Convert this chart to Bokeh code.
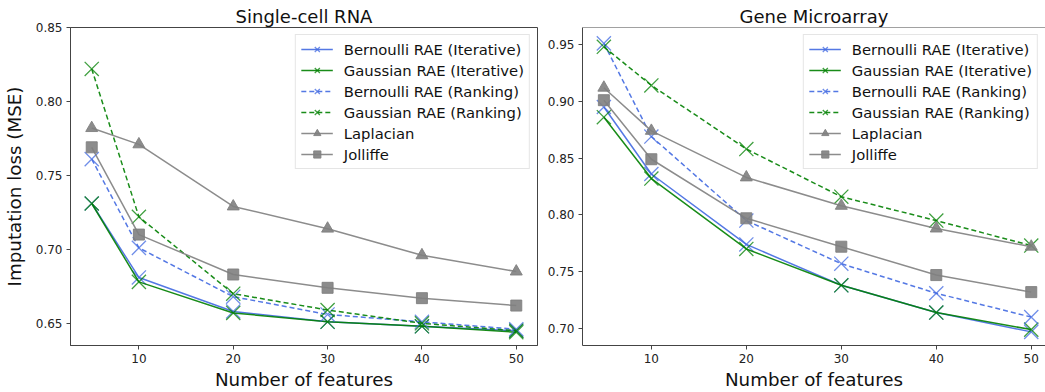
from bokeh.plotting import figure
from bokeh.layouts import row
from bokeh.models import Range1d, FixedTicker, NumeralTickFormatter, Legend, LegendItem, Span
from bokeh.embed import file_html
from bokeh.resources import INLINE

features = [5, 10, 20, 30, 40, 50]

series_names = ["Bernoulli RAE (Iterative)", "Gaussian RAE (Iterative)",
                "Bernoulli RAE (Ranking)", "Gaussian RAE (Ranking)",
                "Laplacian", "Jolliffe"]

# Single-cell RNA
rna_bern_iter = [0.731, 0.681, 0.658, 0.651, 0.648, 0.645]
rna_gauss_iter = [0.731, 0.678, 0.657, 0.651, 0.648, 0.644]
rna_bern_rank = [0.761, 0.701, 0.668, 0.656, 0.651, 0.646]
rna_gauss_rank = [0.822, 0.722, 0.670, 0.659, 0.650, 0.645]
rna_laplacian = [0.782, 0.771, 0.729, 0.714, 0.696, 0.685]
rna_jolliffe = [0.769, 0.710, 0.683, 0.674, 0.667, 0.662]

# Gene Microarray
gm_bern_iter = [0.895, 0.836, 0.774, 0.738, 0.714, 0.697]
gm_gauss_iter = [0.886, 0.832, 0.770, 0.738, 0.714, 0.699]
gm_bern_rank = [0.951, 0.869, 0.795, 0.757, 0.731, 0.710]
gm_gauss_rank = [0.948, 0.914, 0.858, 0.816, 0.795, 0.773]
gm_laplacian = [0.912, 0.874, 0.833, 0.808, 0.788, 0.772]
gm_jolliffe = [0.901, 0.849, 0.797, 0.772, 0.747, 0.732]

rna_ticks = [0.65, 0.70, 0.75, 0.80, 0.85]
gm_ticks = [0.70, 0.75, 0.80, 0.85, 0.90, 0.95]
x_ticks = [10, 20, 30, 40, 50]

BLUE = "#4169e1"
GREEN = "#008000"
GRAY = "#808080"
FONT = "DejaVu Sans"
SPINE = "#444444"

styles = [
    dict(color=BLUE, dash="solid", marker="x"),
    dict(color=GREEN, dash="solid", marker="x"),
    dict(color=BLUE, dash="5 3", marker="x"),
    dict(color=GREEN, dash="5 3", marker="x"),
    dict(color=GRAY, dash="solid", marker="triangle"),
    dict(color=GRAY, dash="solid", marker="square"),
]


def make_fig(title, data, yr, yticks, xr, width, mbl, mbr, ylabel, outline=True):
    p = figure(width=width, height=392, output_backend="svg", toolbar_location=None,
               x_range=Range1d(*xr), y_range=Range1d(*yr),
               min_border_left=mbl, min_border_right=mbr, min_border_top=27,
               min_border_bottom=44)
    p.title.text = title
    p.title.text_font = FONT
    p.title.text_font_size = "18px"
    p.title.text_font_style = "normal"
    p.title.text_color = "#111111"
    p.title.align = "center"
    p.title.standoff = 2
    p.title.offset = 0
    p.grid.visible = False
    p.background_fill_color = "white"
    p.border_fill_color = "white"
    if outline:
        p.outline_line_color = SPINE
    else:
        p.outline_line_color = None
        p.add_layout(Span(location=yr[1], dimension="width", line_color=SPINE, line_width=1))

    xax = p.below[0]
    yax = p.left[0]
    for ax in (xax, yax):
        ax.axis_line_color = SPINE
        ax.major_tick_line_color = SPINE
        ax.minor_tick_line_color = None
        ax.major_tick_out = 4
        ax.major_tick_in = 0
        ax.major_label_text_font = FONT
        ax.major_label_text_font_size = "12px"
        ax.major_label_text_color = "#222222"
        ax.major_label_standoff = 4
        ax.axis_label_text_font = FONT
        ax.axis_label_text_font_size = "18.3px"
        ax.axis_label_text_font_style = "normal"
        ax.axis_label_text_color = "#111111"
    xax.ticker = FixedTicker(ticks=x_ticks)
    yax.ticker = FixedTicker(ticks=yticks)
    yax.formatter = NumeralTickFormatter(format="0.00")
    xax.axis_label = "Number of features"
    xax.axis_label_standoff = 3
    if ylabel:
        yax.axis_label = ylabel
        yax.axis_label_standoff = 8

    items = []
    for name, ys, st in zip(series_names, data, styles):
        r_line = p.line(features, ys, line_color=st["color"], line_width=1.5,
                        line_dash=st["dash"], line_alpha=0.9)
        if st["marker"] == "x":
            r_mark = p.scatter(features, ys, marker="x", size=20, line_color=st["color"],
                               line_width=1.3, line_alpha=0.75)
        elif st["marker"] == "triangle":
            r_mark = p.scatter(features, ys, marker="triangle", size=12, fill_color=st["color"],
                               line_color=st["color"], line_alpha=0.9, fill_alpha=0.9)
        else:
            r_mark = p.scatter(features, ys, marker="square", size=11, fill_color=st["color"],
                               line_color=st["color"], line_alpha=0.9, fill_alpha=0.9)
        items.append(LegendItem(label=name, renderers=[r_line, r_mark]))

    legend = Legend(items=items, location="top_right")
    legend.label_text_font = FONT
    legend.label_text_font_size = "14.8px"
    legend.label_text_color = "#111111"
    legend.glyph_width = 32
    legend.glyph_height = 18
    legend.label_height = 18
    legend.label_standoff = 11
    legend.spacing = 3
    legend.padding = 5
    legend.margin = 7
    legend.border_line_color = "#cccccc"
    legend.border_line_width = 1
    legend.background_fill_color = "white"
    legend.background_fill_alpha = 0.85
    p.add_layout(legend, "center")
    return p


p1 = make_fig("Single-cell RNA",
              [rna_bern_iter, rna_gauss_iter, rna_bern_rank, rna_gauss_rank, rna_laplacian, rna_jolliffe],
              (0.635, 0.85), rna_ticks, (2.75, 52.25), 540, 66, 3, "Imputation loss (MSE)")
p2 = make_fig("Gene Microarray",
              [gm_bern_iter, gm_gauss_iter, gm_bern_rank, gm_gauss_rank, gm_laplacian, gm_jolliffe],
              (0.685, 0.965), gm_ticks, (2.75, 51.5), 505, 42, 0, None, outline=False)

layout = row(p1, p2)
open("out.html", "w").write(file_html(layout, INLINE))
